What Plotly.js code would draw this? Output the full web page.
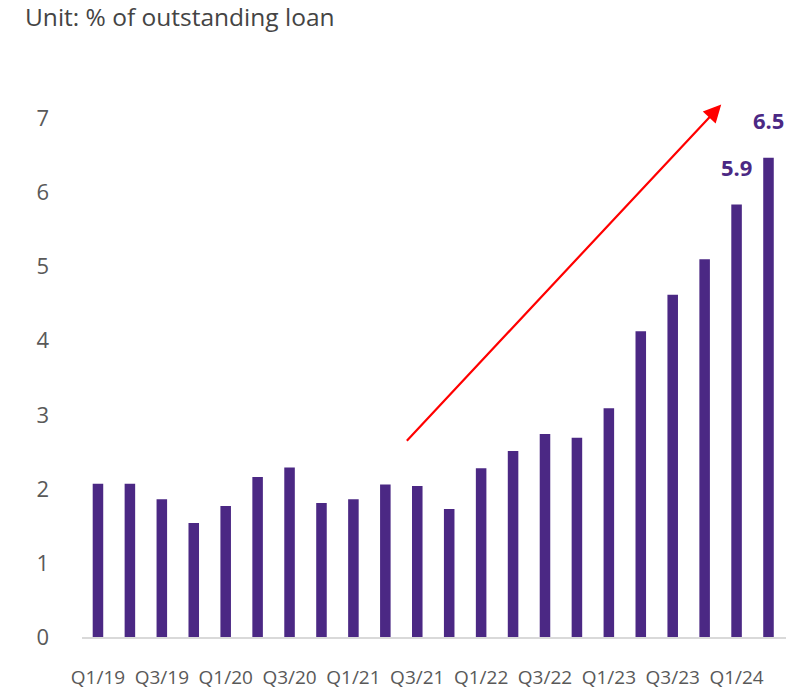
<!DOCTYPE html>
<html>
<head>
<meta charset="utf-8">
<script src="https://cdn.plot.ly/plotly-3.0.1.min.js"></script>
<style>html,body{margin:0;padding:0;background:#fff;}#chart{width:803px;height:695px;}</style>
</head>
<body>
<div id="chart"></div>
<script>
// Data
const quarters = ["Q1/19","Q2/19","Q3/19","Q4/19","Q1/20","Q2/20","Q3/20","Q4/20",
  "Q1/21","Q2/21","Q3/21","Q4/21","Q1/22","Q2/22","Q3/22","Q4/22",
  "Q1/23","Q2/23","Q3/23","Q4/23","Q1/24","Q2/24"];
const ratio = [2.07,2.07,1.86,1.54,1.77,2.16,2.29,1.81,
  1.86,2.06,2.04,1.73,2.28,2.51,2.74,2.69,
  3.09,4.13,4.62,5.10,5.84,6.47];
const tickLabels = ["Q1/19","Q3/19","Q1/20","Q3/20","Q1/21","Q3/21","Q1/22","Q3/22","Q1/23","Q3/23","Q1/24"];
const yTicks = [0,1,2,3,4,5,6,7];
const labelled = {"Q1/24":"5.9","Q2/24":"6.5"};
const titleText = "Unit: % of outstanding loan";
// Trend arrow (category index / value units)
const arrowFrom = {x: 9.63, y: 2.63};
const arrowTo = {x: 19.52, y: 7.19};

const purple = "#4b2884";
const font = "'Open Sans', 'Noto Sans', sans-serif";

const annotations = Object.keys(labelled).map(q => ({
  x: q, y: ratio[quarters.indexOf(q)], xref: 'x', yref: 'y',
  text: labelled[q], showarrow: false, yanchor: 'bottom', yshift: 21,
  font: {family: font, size: 22, color: purple, weight: 'bold'}
}));
annotations.push({
  x: arrowTo.x, y: arrowTo.y, ax: arrowFrom.x, ay: arrowFrom.y,
  xref: 'x', yref: 'y', axref: 'x', ayref: 'y',
  showarrow: true, arrowhead: 2, arrowsize: 1.6, arrowwidth: 2.2,
  arrowcolor: '#ff0000', text: ''
});

Plotly.newPlot('chart', [{
  type: 'bar', x: quarters, y: ratio,
  marker: {color: purple},
  hoverinfo: 'skip'
}], {
  width: 803, height: 695,
  margin: {l: 82, r: 17, t: 89, b: 58},
  paper_bgcolor: '#fff', plot_bgcolor: '#fff',
  bargap: 0.67,
  showlegend: false,
  title: {text: titleText, x: 25/803, xanchor: 'left', xref: 'container',
    y: 1 - 17/695, yanchor: 'middle', yref: 'container',
    font: {family: font, size: 24.5, color: '#444444'}},
  xaxis: {type: 'category', tickmode: 'array', tickvals: tickLabels, ticktext: tickLabels,
    showline: true, linecolor: '#d9d9d9', linewidth: 2, showgrid: false, zeroline: false,
    ticks: '', ticklabelstandoff: 22,
    tickfont: {family: font, size: 19, color: '#595959'}},
  yaxis: {range: [0, 7.4], tickmode: 'array', tickvals: yTicks,
    showline: false, showgrid: false, zeroline: false, ticks: '',
    ticklabelstandoff: 32,
    tickfont: {family: font, size: 22, color: '#595959'}},
  annotations: annotations
}, {displayModeBar: false, staticPlot: true});
</script>
</body>
</html>
